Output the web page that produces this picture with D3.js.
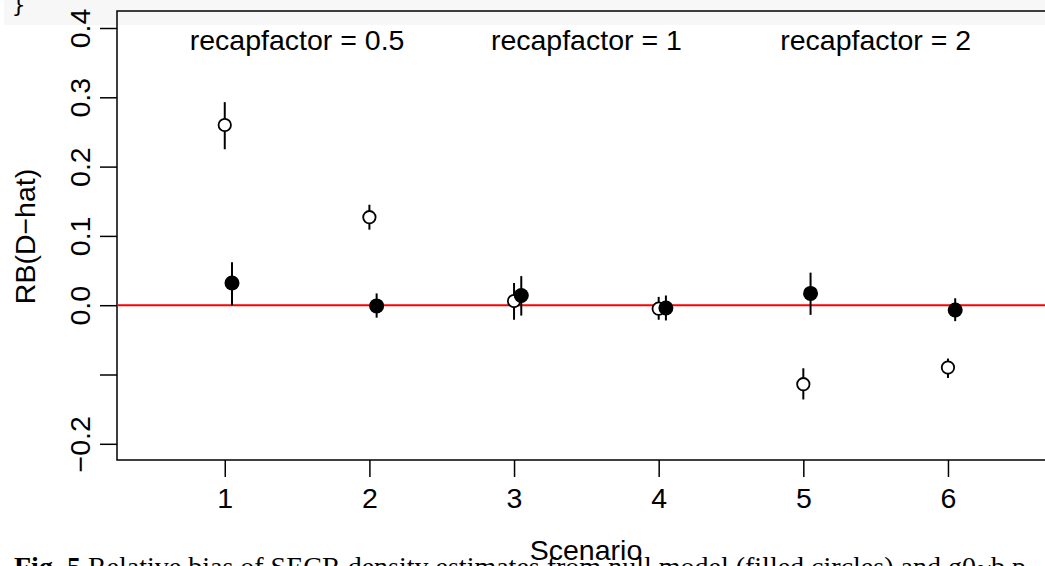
<!DOCTYPE html>
<html>
<head>
<meta charset="utf-8">
<script src="https://cdn.jsdelivr.net/npm/d3@7"></script>
<style>
  body { margin: 0; background: #fff; }
  svg { display: block; }
</style>
</head>
<body>
<svg id="chart" width="1045" height="566"></svg>
<script>
const scenarios = [1, 2, 3, 4, 5, 6];
// open circles (second model), filled circles (null model)
const openEst = [0.260, 0.127, 0.006, -0.005, -0.114, -0.090];
const openLo = [0.225, 0.109, -0.021, -0.021, -0.136, -0.105];
const openHi = [0.293, 0.145, 0.032, 0.012, -0.091, -0.077];
const filledEst = [0.032, -0.001, 0.014, -0.004, 0.017, -0.007];
const filledLo = [0.000, -0.018, -0.015, -0.022, -0.014, -0.023];
const filledHi = [0.062, 0.017, 0.042, 0.014, 0.047, 0.010];
const yTicks = [-0.2, -0.1, 0.0, 0.1, 0.2, 0.3, 0.4];
const yTickLabels = ["\u22120.2", "", "0.0", "0.1", "0.2", "0.3", "0.4"];
const panelLabels = ["recapfactor = 0.5", "recapfactor = 1", "recapfactor = 2"];
const panelCentres = [1.5, 3.5, 5.5];

const svg = d3.select("#chart");
const box = { left: 117, top: 11, right: 1055, bottom: 460 };
const font = "Liberation Sans, Arial, sans-serif";
const fs = "28.5px";

const x = d3.scaleLinear().domain([0.255, 6.74]).range([box.left, box.right]);
const y = d3.scaleLinear().domain([-0.2, 0.4]).range([443.8, 28]);

// grey code block band from the page
svg.append("rect").attr("x", 4).attr("y", 0).attr("width", 1041).attr("height", 25)
  .attr("fill", "#f7f7f7");
svg.append("text").attr("x", 12).attr("y", 12)
  .style("font-family", "DejaVu Sans Mono").style("font-size", "22px")
  .text("}");

// plot box
svg.append("rect").attr("x", box.left).attr("y", box.top)
  .attr("width", box.right - box.left).attr("height", box.bottom - box.top)
  .attr("fill", "none").attr("stroke", "#000").attr("stroke-width", 1.5);

// y axis
const yAxis = svg.append("g").attr("transform", `translate(${box.left},0)`)
  .call(d3.axisLeft(y).tickValues(yTicks).tickSize(17).tickFormat((d, i) => yTickLabels[i]));
yAxis.select(".domain").remove();
yAxis.selectAll("line").attr("stroke", "#000").attr("stroke-width", 1.5);
yAxis.selectAll(".tick text")
  .attr("x", null).attr("y", null).attr("dy", null)
  .attr("transform", "translate(-27,0) rotate(-90)")
  .attr("text-anchor", "middle")
  .style("font-family", font)
  .style("font-size", fs)
  .attr("fill", "#000");

// x axis
const xAxis = svg.append("g").attr("transform", `translate(0,${box.bottom})`)
  .call(d3.axisBottom(x).tickValues(scenarios).tickSize(17).tickFormat(d3.format("d")));
xAxis.select(".domain").remove();
xAxis.selectAll("line").attr("stroke", "#000").attr("stroke-width", 1.5);
xAxis.selectAll(".tick text")
  .attr("dy", null).attr("y", 48)
  .style("font-family", font)
  .style("font-size", fs)
  .attr("fill", "#000");

// axis titles
svg.append("text")
  .attr("transform", `translate(35,236.5) rotate(-90)`)
  .attr("text-anchor", "middle")
  .style("font-family", font)
  .style("font-size", fs)
  .text("RB(D\u2212hat)");

// caption from the page, drawn under the x title
const cap = svg.append("text").attr("x", 14).attr("y", 576)
  .style("font-family", "Liberation Serif, serif").style("font-size", "28px");
cap.append("tspan").style("font-weight", "bold").text("Fig. 5 ");
cap.append("tspan").text("Relative bias of SECR density estimates from null model (filled circles) and g0~b p");

svg.append("text")
  .attr("x", (box.left + box.right) / 2).attr("y", 560)
  .attr("text-anchor", "middle")
  .style("font-family", font)
  .style("font-size", fs)
  .text("Scenario");

// panel labels
svg.selectAll("text.panel").data(panelLabels).join("text")
  .attr("class", "panel")
  .attr("x", (d, i) => x(panelCentres[i]))
  .attr("y", 50)
  .attr("text-anchor", "middle")
  .style("font-family", font)
  .style("font-size", fs)
  .text(d => d);

// zero reference line
svg.append("line")
  .attr("x1", box.left).attr("x2", 1045)
  .attr("y1", y(0)).attr("y2", y(0))
  .attr("stroke", "#ff0000").attr("stroke-width", 2);

const plot = svg.append("g");
const offset = 0.05;

// open circles
plot.selectAll("line.openci").data(scenarios).join("line")
  .attr("class", "openci")
  .attr("x1", d => x(d)).attr("x2", d => x(d))
  .attr("y1", (d, i) => y(openLo[i])).attr("y2", (d, i) => y(openHi[i]))
  .attr("stroke", "#000").attr("stroke-width", 2);
plot.selectAll("circle.open").data(scenarios).join("circle")
  .attr("class", "open")
  .attr("cx", d => x(d)).attr("cy", (d, i) => y(openEst[i]))
  .attr("r", 6.2).attr("fill", "#fff").attr("stroke", "#000").attr("stroke-width", 1.8);

// filled circles
plot.selectAll("line.filledci").data(scenarios).join("line")
  .attr("class", "filledci")
  .attr("x1", d => x(d + offset)).attr("x2", d => x(d + offset))
  .attr("y1", (d, i) => y(filledLo[i])).attr("y2", (d, i) => y(filledHi[i]))
  .attr("stroke", "#000").attr("stroke-width", 2);
plot.selectAll("circle.filled").data(scenarios).join("circle")
  .attr("class", "filled")
  .attr("cx", d => x(d + offset)).attr("cy", (d, i) => y(filledEst[i]))
  .attr("r", 7.5).attr("fill", "#000");
</script>
</body>
</html>
